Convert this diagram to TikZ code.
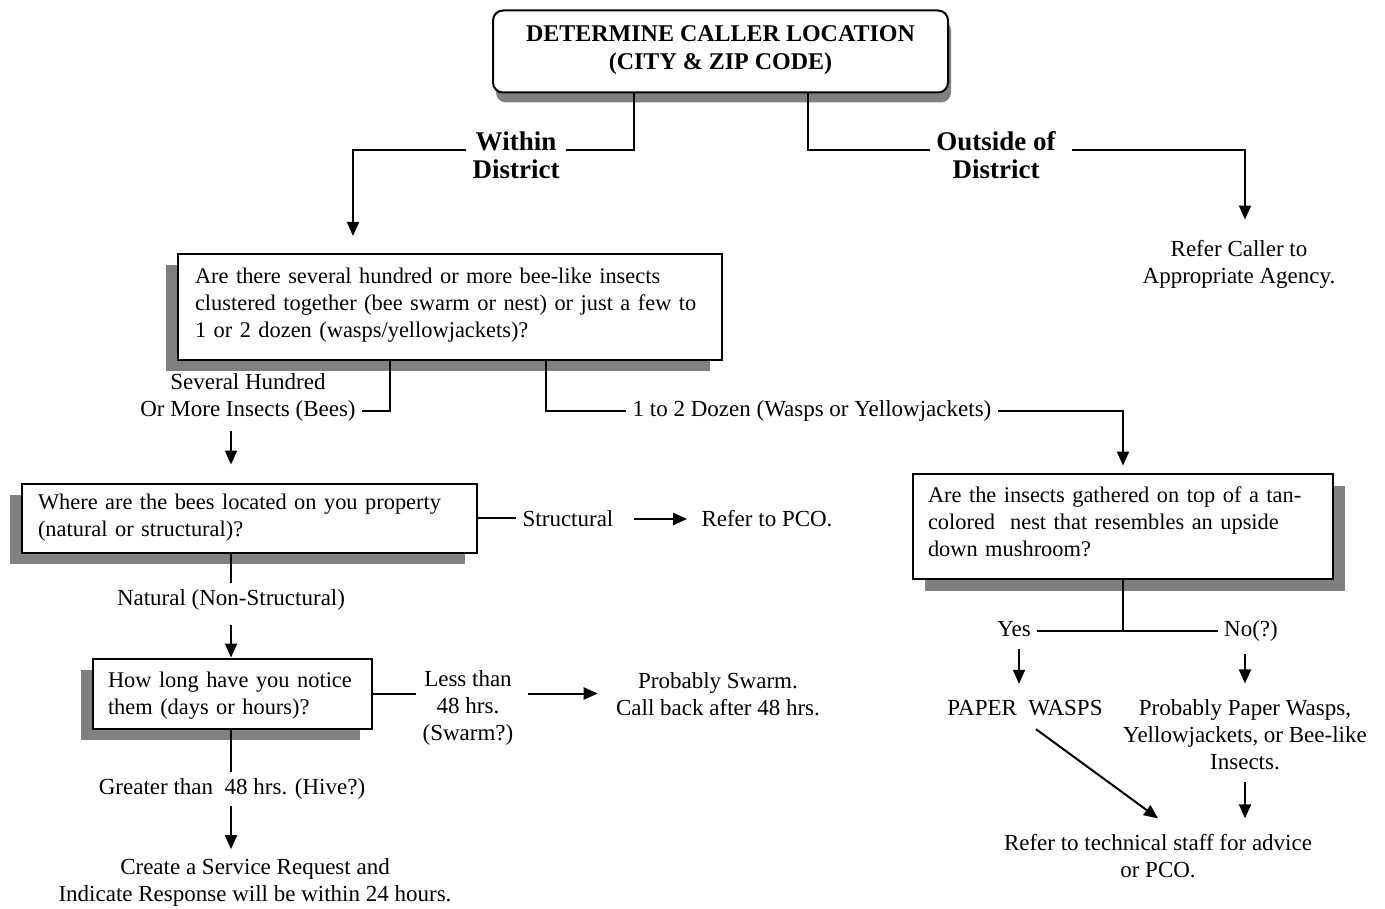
\documentclass[tikz,border=0pt]{standalone}
\usepackage{fontspec}
\setmainfont{Liberation Serif}
\usetikzlibrary{arrows.meta,calc,shadows}
\newcommand\bodyfs{\fontsize{11.5}{13.5}\selectfont}
\newcommand\boxfs{\fontsize{11.2}{13.5}\selectfont}
\begin{document}
\begin{tikzpicture}[x=0.5pt,y=-0.5pt,
  conn/.style={line width=1pt},
  arr/.style={line width=1pt,-{Triangle[length=7pt,width=6pt]}},
  boxbase/.style={draw,line width=1pt,fill=white,inner ysep=0pt,font=\boxfs,align=left},
  shL/.style={drop shadow={shadow xshift=-6pt,shadow yshift=-5.5pt,fill=black!50,opacity=1}},
  shR/.style={drop shadow={shadow xshift=6pt,shadow yshift=-6pt,fill=black!50,opacity=1}},
  shT/.style={drop shadow={shadow xshift=1.5pt,shadow yshift=-5pt,fill=black!50,opacity=1}},
  lbl/.style={font=\bodyfs,align=center,inner sep=3pt},
  blbl/.style={font=\fontsize{13.5}{14}\selectfont\bfseries,align=center,inner sep=3pt},
]
\useasboundingbox[fill=white] (0,0) rectangle (1385,909);

% boxes
\node[draw,line width=1pt,fill=white,rounded corners=5pt,shT,minimum width=227.5pt,minimum height=41pt,
  font=\fontsize{12}{14}\selectfont\bfseries,align=center,inner sep=0pt] (top) at (720.5,51.5)
  {DETERMINE CALLER LOCATION\\(CITY \& ZIP CODE)\rule[-3.5pt]{0pt}{0pt}};
\node[boxbase,shL,minimum width=272pt,minimum height=53pt,text width=255pt,inner xsep=8.5pt] (q1) at (450,307)
  {\mbox{Are there several hundred or more bee-like insects}\\\mbox{clustered together (bee swarm or nest) or just a few to}\\\mbox{1 or 2 dozen (wasps/yellowjackets)?}\rule[-4pt]{0pt}{0pt}};
\node[boxbase,shL,minimum width=227.5pt,minimum height=34.5pt,text width=211.5pt,inner xsep=8pt] (box2) at (249.5,518)
  {\mbox{Where are the bees located on you property}\\\mbox{(natural or structural)?}};
\node[boxbase,shL,minimum width=139.5pt,minimum height=35pt,text width=124.5pt,inner xsep=7.5pt] (box3) at (232.5,693.5)
  {\rule{0pt}{10pt}\mbox{How long have you notice}\\\mbox{them (days or hours)?}};
\node[boxbase,shR,minimum width=210pt,minimum height=52.5pt,text width=195pt,inner xsep=7.5pt] (boxR) at (1123,526)
  {\mbox{Are the insects gathered on top of a tan-}\\\mbox{colored\ \ nest that resembles an upside}\\\mbox{down mushroom?}\rule[-4pt]{0pt}{0pt}};

% labels
\node[blbl] (within) at (516,155) {Within\\District};
\node[blbl] (outside) at (996,155) {Outside of\\District};
\node[lbl] (agency) at (1239,264) {Refer Caller to\\Appropriate Agency.};
\node[lbl] (bees) at (248,397.5) {Several Hundred\\Or More Insects (Bees)};
\node[lbl] (dozen) at (812,411) {1 to 2 Dozen (Wasps or Yellowjackets)};
\node[lbl] (structural) at (568,519) {Structural};
\node[lbl] (pco) at (767,519) {Refer to PCO.};
\node[lbl] (natural) at (231,600) {Natural (Non-Structural)};
\node[lbl] (less) at (468,708) {Less than\\48 hrs.\\(Swarm?)};
\node[lbl] (swarm) at (718,694.5) {Probably Swarm.\\Call back after 48 hrs.};
\node[lbl] (greater) at (232,789) {Greater than\ \ 48 hrs. (Hive?)};
\node[lbl] (service) at (255,882.5) {Create a Service Request and\\Indicate Response will be within 24 hours.};
\node[lbl] (yes) at (1014,629) {Yes};
\node[lbl] (no) at (1251,631) {No(?)};
\node[lbl] (paper) at (1025,708) {PAPER\ \ WASPS};
\node[lbl] (prob) at (1245,735) {Probably Paper Wasps,\\Yellowjackets, or Bee-like\\Insects.};
\node[lbl] (tech) at (1158,856.5) {Refer to technical staff for advice\\or PCO.};

% connectors
\draw[conn] ($(top.south)+(-86.5,0)$) |- ([yshift=2.5pt]within.east);
\draw[arr,shorten >=8.5pt] ([yshift=2.5pt]within.west) -| (q1.north -| 353,0);
\draw[conn] ($(top.south)+(87.5,0)$) |- ([yshift=2.5pt]outside.west);
\draw[arr,shorten <=5pt,shorten >=7pt] ([yshift=2.5pt]outside.east) -| (agency.north -| 1245,0);

\draw[conn] (q1.south -| 390,0) |- ([yshift=-6.75pt]bees.east);
\draw[arr,shorten <=1.5pt,shorten >=9pt] (bees.south -| 231,0) -- (box2.north -| 231,0);
\draw[conn] (q1.south -| 546,0) |- (dozen.west);
\draw[arr,shorten >=3.5pt] (dozen.east) -| (boxR.north);

\draw[conn] (box2.east) -- (box2.east -| structural.west);
\draw[arr,shorten <=7pt,shorten >=4pt] (structural.east) -- (pco.west);
\draw[conn] (box2.south -| natural.north) -- (natural.north);
\draw[arr,shorten <=4pt] (natural.south) -- (box3.north -| natural.south);

\draw[conn] (box3.east) -- (box3.east -| less.west);
\draw[arr,shorten <=4pt,shorten >=6pt] (box3.east -| less.east) -- (box3.east -| swarm.west);
\draw[conn] (box3.south -| 231,0) -- (greater.north -| 231,0);
\draw[arr,shorten >=1.5pt] (greater.south -| 231,0) -- (service.north -| 231,0);

\draw[conn] (boxR.south) -- ($(boxR.south |- yes.east)+(0,2)$);
\draw[conn] ([yshift=-1pt]yes.east) -- ([yshift=-1pt]yes.east -| no.west);
\draw[arr,shorten <=3pt,shorten >=5pt] ([xshift=2.5pt]yes.south) -- ([xshift=2.5pt]yes.south |- paper.north);
\draw[arr,shorten <=3pt,shorten >=5pt] (no.south -| prob.north) -- (prob.north);
\draw[arr] ($(paper.south)+(11,7)$) -- ($(tech.north)+(0,-10)$);
\draw[arr,shorten <=2.5pt,shorten >=5pt] (prob.south) -- (prob.south |- tech.north);
\end{tikzpicture}
\end{document}
